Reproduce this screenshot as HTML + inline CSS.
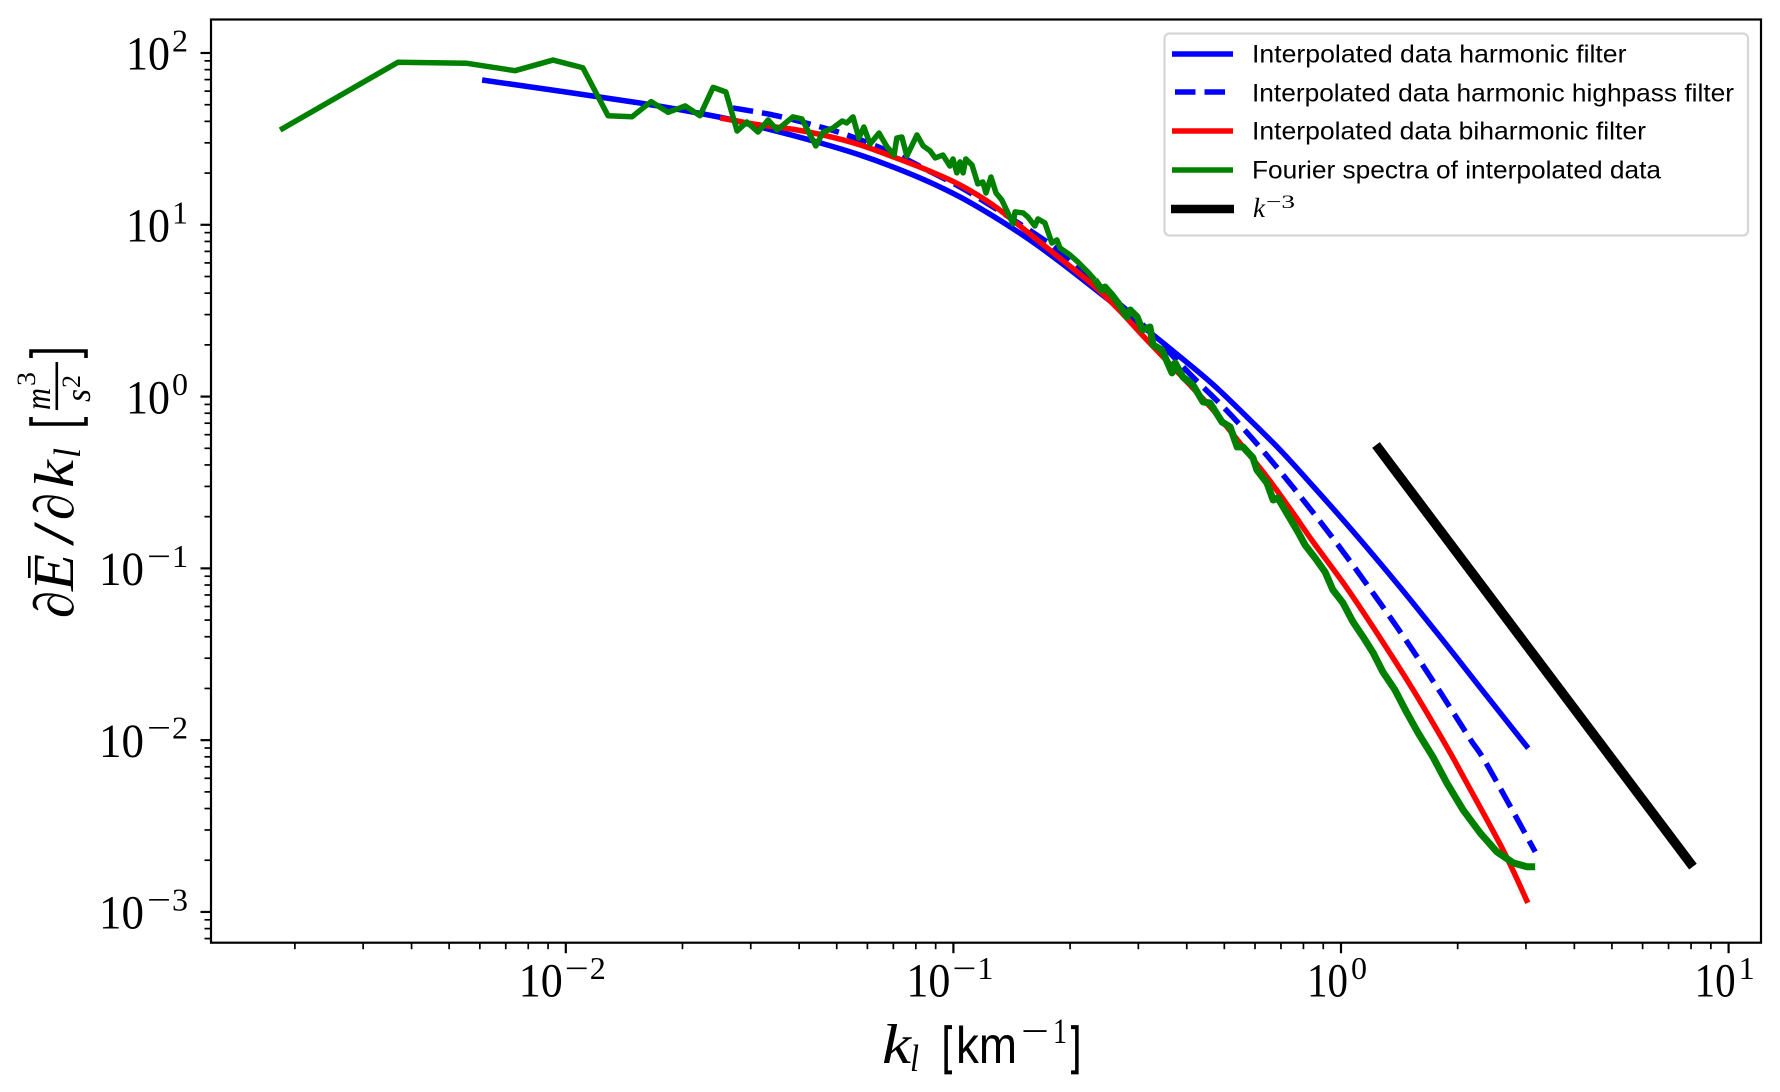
<!DOCTYPE html>
<html>
<head>
<meta charset="utf-8">
<title>Energy spectrum</title>
<style>
html,body{margin:0;padding:0;background:#fff;}
svg{display:block;}
text{fill:#000;}
.tick{font-family:"Liberation Serif",serif;font-size:48px;}
.exp{font-family:"Liberation Serif",serif;font-size:32px;}
.leg{font-family:"Liberation Sans",sans-serif;font-size:24.7px;}
.mi{font-family:"Liberation Serif",serif;font-style:italic;}
.rm{font-family:"Liberation Serif",serif;}
.sf{font-family:"Liberation Sans",sans-serif;}
</style>
</head>
<body>
<svg id="chart" xmlns="http://www.w3.org/2000/svg" width="1780" height="1092" viewBox="0 0 1780 1092">
  <rect x="0" y="0" width="1780" height="1092" fill="#fff"/>
  <g id="series"></g>
  <g id="ticks"></g>
  <rect x="211" y="19.5" width="1550" height="923.2" fill="none" stroke="#000" stroke-width="2.2"/>

  <g>
    <text class="mi" x="882" y="1063" font-size="56" textLength="29" lengthAdjust="spacingAndGlyphs">k</text>
    <text class="mi" x="910" y="1071" font-size="38" textLength="9" lengthAdjust="spacingAndGlyphs">l</text>
    <text class="sf" x="942" y="1063" font-size="52" textLength="10" lengthAdjust="spacingAndGlyphs" stroke="#000" stroke-width="0.7">[</text>
    <text class="sf" x="956" y="1063" font-size="52" textLength="61" lengthAdjust="spacingAndGlyphs">km</text>
    <text class="rm" x="1021" y="1043" font-size="36" textLength="28" lengthAdjust="spacingAndGlyphs">−</text>
    <text class="rm" x="1053" y="1043" font-size="36" textLength="14" lengthAdjust="spacingAndGlyphs">1</text>
    <text class="sf" x="1071" y="1063" font-size="52" textLength="10" lengthAdjust="spacingAndGlyphs" stroke="#000" stroke-width="0.7">]</text>
  </g>

  <g transform="translate(73,618) rotate(-90)">
    <text class="mi" x="0" y="0" font-size="56" textLength="27" lengthAdjust="spacingAndGlyphs">∂</text>
    <text class="mi" x="27" y="0" font-size="58" textLength="37" lengthAdjust="spacingAndGlyphs">E</text>
    <rect x="40" y="-45" width="22" height="2.6" fill="#000"/>
    <text class="rm" x="72" y="0" font-size="58" textLength="24" lengthAdjust="spacingAndGlyphs">/</text>
    <text class="mi" x="98" y="0" font-size="56" textLength="27" lengthAdjust="spacingAndGlyphs">∂</text>
    <text class="mi" x="130" y="0" font-size="56" textLength="28" lengthAdjust="spacingAndGlyphs">k</text>
    <text class="mi" x="160" y="7" font-size="38" textLength="10" lengthAdjust="spacingAndGlyphs">l</text>
    <path d="M201,-42 H194 V13 H201" fill="none" stroke="#000" stroke-width="3.6"/>
    <text class="mi" x="208" y="-23" font-size="36" textLength="22" lengthAdjust="spacingAndGlyphs">m</text>
    <text class="rm" x="232" y="-38" font-size="26" textLength="14" lengthAdjust="spacingAndGlyphs">3</text>
    <rect x="208" y="-17.5" width="48" height="2.6" fill="#000"/>
    <text class="mi" x="216" y="17" font-size="36" textLength="13" lengthAdjust="spacingAndGlyphs">s</text>
    <text class="rm" x="230" y="7" font-size="26" textLength="13" lengthAdjust="spacingAndGlyphs">2</text>
    <path d="M260,-42 H267 V13 H260" fill="none" stroke="#000" stroke-width="3.6"/>
  </g>

  <g>
    <rect x="1164.5" y="33.5" width="583.5" height="202" rx="5" ry="5" fill="#fff" fill-opacity="0.85" stroke="#d6d6d6" stroke-width="2.2"/>
    <line x1="1172" x2="1233" y1="54" y2="54" stroke="#0000ff" stroke-width="5.5"/>
    <line x1="1175" x2="1225" y1="92" y2="92" stroke="#0000ff" stroke-width="5.5" stroke-dasharray="20.5 9"/>
    <line x1="1172" x2="1233" y1="131" y2="131" stroke="#ff0000" stroke-width="5.5"/>
    <line x1="1172" x2="1233" y1="170" y2="170" stroke="#008000" stroke-width="5.5"/>
    <line x1="1171" x2="1234" y1="209" y2="209" stroke="#000" stroke-width="8.5"/>
    <text class="leg" x="1252" y="62.7" textLength="374.5" lengthAdjust="spacingAndGlyphs">Interpolated data harmonic filter</text>
    <text class="leg" x="1252" y="101.5" textLength="482" lengthAdjust="spacingAndGlyphs">Interpolated data harmonic highpass filter</text>
    <text class="leg" x="1252" y="139.5" textLength="394" lengthAdjust="spacingAndGlyphs">Interpolated data biharmonic filter</text>
    <text class="leg" x="1252" y="178.5" textLength="409" lengthAdjust="spacingAndGlyphs">Fourier spectra of interpolated data</text>
    <g>
      <text class="mi" x="1253" y="217" font-size="27">k</text>
      <text class="rm" x="1266" y="208" font-size="19" textLength="29" lengthAdjust="spacingAndGlyphs">−3</text>
    </g>
  </g>
</svg>

<script>
// Values are log10(k [km^-1]) and log10(E).
const harmonicLogK = [-2.216,-1.809,-1.602,-1.499,-1.414,-1.326,-1.241,-1.156,-1.068,-0.983,-0.898,-0.810,-0.725,-0.622,-0.488,-0.415,-0.329,-0.243,-0.157,-0.071,0.015,0.101,0.187,0.273,0.359,0.483];
const harmonicLogE = [1.843,1.709,1.626,1.569,1.520,1.465,1.406,1.337,1.255,1.162,1.051,0.923,0.784,0.603,0.365,0.231,0.068,-0.118,-0.311,-0.524,-0.743,-0.970,-1.205,-1.447,-1.694,-2.047];

const highpassLogK = [-1.569,-1.465,-1.362,-1.275,-1.156,-1.068,-0.983,-0.898,-0.777,-0.725,-0.666,-0.519,-0.390,-0.292,-0.196,-0.101,-0.008,0.083,0.170,0.255,0.333,0.377,0.501];
const highpassLogE = [1.680,1.639,1.581,1.523,1.418,1.319,1.220,1.104,0.929,0.842,0.720,0.434,0.132,-0.088,-0.330,-0.592,-0.863,-1.145,-1.426,-1.717,-1.993,-2.144,-2.650];

const biharmonicLogK = [-1.602,-1.499,-1.414,-1.326,-1.241,-1.156,-1.068,-0.983,-0.898,-0.810,-0.725,-0.640,-0.575,-0.501,-0.397,-0.330,-0.261,-0.191,-0.124,-0.072,0.015,0.101,0.186,0.273,0.320,0.418,0.482];
const biharmonicLogE = [1.622,1.581,1.556,1.517,1.465,1.396,1.319,1.232,1.115,0.960,0.805,0.650,0.510,0.330,0.085,-0.078,-0.270,-0.468,-0.677,-0.846,-1.114,-1.405,-1.707,-2.039,-2.231,-2.639,-2.947];

const fourierLogK = [-2.737,-2.433,-2.255,-2.131,-2.033,-1.956,-1.891,-1.829,-1.780,-1.736,-1.692,-1.654,-1.620,-1.587,-1.558,-1.533,-1.504,-1.478,-1.455,-1.414,-1.391,-1.355,-1.336,-1.311,-1.287,-1.275,-1.259,-1.244,-1.231,-1.215,-1.192,-1.171,-1.153,-1.146,-1.133,-1.120,-1.094,-1.078,-1.060,-1.047,-1.027,-1.009,-1.001,-0.991,-0.983,-0.975,-0.968,-0.952,-0.937,-0.924,-0.916,-0.903,-0.890,-0.875,-0.846,-0.841,-0.820,-0.808,-0.790,-0.782,-0.764,-0.746,-0.733,-0.725,-0.699,-0.679,-0.653,-0.635,-0.617,-0.609,-0.591,-0.575,-0.552,-0.544,-0.526,-0.513,-0.493,-0.485,-0.462,-0.436,-0.428,-0.408,-0.382,-0.356,-0.338,-0.307,-0.286,-0.268,-0.253,-0.227,-0.217,-0.191,-0.175,-0.163,-0.137,-0.111,-0.093,-0.067,-0.041,-0.021,0.005,0.031,0.057,0.083,0.108,0.139,0.170,0.199,0.237,0.273,0.315,0.359,0.402,0.444,0.480,0.501];
const fourierLogE = [1.552,1.946,1.940,1.897,1.959,1.914,1.635,1.629,1.717,1.655,1.692,1.635,1.800,1.773,1.546,1.598,1.540,1.610,1.552,1.628,1.616,1.459,1.540,1.563,1.604,1.593,1.628,1.505,1.569,1.470,1.534,1.453,1.406,1.505,1.511,1.401,1.523,1.459,1.430,1.389,1.406,1.342,1.383,1.302,1.366,1.302,1.383,1.348,1.238,1.249,1.185,1.278,1.185,1.144,1.005,1.075,1.069,1.046,0.993,1.034,1.011,0.894,0.912,0.865,0.824,0.784,0.725,0.679,0.621,0.638,0.592,0.545,0.464,0.504,0.464,0.388,0.405,0.301,0.271,0.138,0.196,0.114,0.068,-0.031,-0.037,-0.148,-0.177,-0.293,-0.293,-0.357,-0.427,-0.503,-0.602,-0.590,-0.689,-0.788,-0.863,-0.939,-1.021,-1.125,-1.201,-1.312,-1.399,-1.492,-1.603,-1.707,-1.841,-1.958,-2.097,-2.249,-2.406,-2.540,-2.650,-2.714,-2.737,-2.737];

const referenceLogK = [0.0903,0.908];
const referenceLogE = [-0.282,-2.736];

const xTickExponents = [-2,-1,0,1];
const yTickExponents = [-3,-2,-1,0,1,2];
const xDecades = [-3,-2,-1,0,1];
const yDecades = [-4,-3,-2,-1,0,1,2];
const minorMultipliers = [2,3,4,5,6,7,8,9];

const X_LEFT = 211, X_RIGHT = 1761, Y_TOP = 19.5, Y_BOTTOM = 942.7;
const LOGK_MIN = -2.9154, LOGK_MAX = 1.0836;
const LOGE_MAX = 2.195, LOGE_MIN = -3.179;
const FOURIER_THICK_FROM = -0.65;

function xScale(v){ return X_LEFT + (v - LOGK_MIN) / (LOGK_MAX - LOGK_MIN) * (X_RIGHT - X_LEFT); }
function yScale(v){ return Y_TOP + (LOGE_MAX - v) / (LOGE_MAX - LOGE_MIN) * (Y_BOTTOM - Y_TOP); }

const NS = 'http://www.w3.org/2000/svg';
const seriesGroup = document.getElementById('series');
const tickGroup = document.getElementById('ticks');

function linePath(ks, es){
  return ks.map(function(k,i){ return (i ? 'L' : 'M') + xScale(k).toFixed(2) + ',' + yScale(es[i]).toFixed(2); }).join(' ');
}

function smoothPath(ks, es){
  const px = ks.map(xScale);
  const py = es.map(yScale);
  const n = px.length;
  let d = 'M' + px[0].toFixed(2) + ',' + py[0].toFixed(2);
  for (let i = 0; i < n - 1; i++) {
    const a = Math.max(i - 1, 0), b = Math.min(i + 2, n - 1);
    const c1x = px[i] + (px[i + 1] - px[a]) / 6;
    const c1y = py[i] + (py[i + 1] - py[a]) / 6;
    const c2x = px[i + 1] - (px[b] - px[i]) / 6;
    const c2y = py[i + 1] - (py[b] - py[i]) / 6;
    d += ' C' + c1x.toFixed(2) + ',' + c1y.toFixed(2) + ' ' + c2x.toFixed(2) + ',' + c2y.toFixed(2) + ' ' + px[i + 1].toFixed(2) + ',' + py[i + 1].toFixed(2);
  }
  return d;
}

function drawSeries(name, d, color, width, dash){
  const p = document.createElementNS(NS, 'path');
  
  
  p.setAttribute('d', d);
  p.setAttribute('fill', 'none');
  p.setAttribute('stroke', color);
  p.setAttribute('stroke-width', width);
  p.setAttribute('stroke-linejoin', 'round');
  if (dash) { p.setAttribute('stroke-dasharray', dash); }
  seriesGroup.appendChild(p);
}

drawSeries('harmonic-filter-line', smoothPath(harmonicLogK, harmonicLogE), '#0000ff', 5.5, null);
drawSeries('harmonic-highpass-filter-line', smoothPath(highpassLogK, highpassLogE), '#0000ff', 5.5, '20.55 8.89');
drawSeries('biharmonic-filter-line', smoothPath(biharmonicLogK, biharmonicLogE), '#ff0000', 5.5, null);

const fourierSplit = fourierLogK.findIndex(function(k){ return k > FOURIER_THICK_FROM; });
drawSeries('fourier-spectra-line', linePath(fourierLogK.slice(0, fourierSplit + 1), fourierLogE.slice(0, fourierSplit + 1)), '#008000', 5.5, null);
drawSeries('fourier-spectra-line-high-k', linePath(fourierLogK.slice(fourierSplit), fourierLogE.slice(fourierSplit)), '#008000', 7, null);

drawSeries('k-minus-3-reference-line', linePath(referenceLogK, referenceLogE), '#000000', 9.5, null);

function tickLine(name, x1, y1, x2, y2, w){
  const l = document.createElementNS(NS, 'line');
  
  
  l.setAttribute('x1', x1); l.setAttribute('y1', y1);
  l.setAttribute('x2', x2); l.setAttribute('y2', y2);
  l.setAttribute('stroke', '#000');
  l.setAttribute('stroke-width', w);
  tickGroup.appendChild(l);
}

function labelText(name, cls, x, y, str, len){
  const t = document.createElementNS(NS, 'text');
  
  
  t.setAttribute('class', cls);
  t.setAttribute('x', x);
  t.setAttribute('y', y);
  t.setAttribute('textLength', len);
  t.setAttribute('lengthAdjust', 'spacingAndGlyphs');
  t.textContent = str;
  tickGroup.appendChild(t);
}

xDecades.forEach(function(d){
  minorMultipliers.forEach(function(m){
    const v = d + Math.log10(m);
    if (v > LOGK_MIN && v < LOGK_MAX) {
      const x = xScale(v);
      tickLine('x-minor-tick', x, Y_BOTTOM, x, Y_BOTTOM + 6.5, 1.7);
    }
  });
});
yDecades.forEach(function(d){
  minorMultipliers.forEach(function(m){
    const v = d + Math.log10(m);
    if (v > LOGE_MIN && v < LOGE_MAX) {
      const y = yScale(v);
      tickLine('y-minor-tick', X_LEFT, y, X_LEFT - 6.5, y, 1.7);
    }
  });
});

xTickExponents.forEach(function(e){
  const x = xScale(e);
  tickLine('x-major-tick', x, Y_BOTTOM, x, Y_BOTTOM + 10.5, 2.2);
  const base = 996.7, up = 979;
  if (e < 0) {
    labelText('x-tick-label-base', 'tick', x - 47, base, '10', 44);
    labelText('x-tick-label-minus', 'exp', x - 1, up, '−', 24);
    labelText('x-tick-label-exponent', 'exp', x + 24, up, String(-e), 16);
  } else {
    labelText('x-tick-label-base', 'tick', x - 34, base, '10', 41);
    labelText('x-tick-label-exponent', 'exp', x + 10, up, String(e), 16);
  }
});

yTickExponents.forEach(function(e){
  const y = yScale(e);
  tickLine('y-major-tick', X_LEFT, y, X_LEFT - 10.5, y, 2.2);
  const base = y + 16.7, up = y - 1.5;
  if (e < 0) {
    labelText('y-tick-label-base', 'tick', 99, base, '10', 45);
    labelText('y-tick-label-minus', 'exp', 147, up, '−', 24);
    labelText('y-tick-label-exponent', 'exp', 172, up, String(-e), 16);
  } else {
    labelText('y-tick-label-base', 'tick', 126, base, '10', 44);
    labelText('y-tick-label-exponent', 'exp', 172, up, String(e), 16);
  }
});
</script>
</body>
</html>
